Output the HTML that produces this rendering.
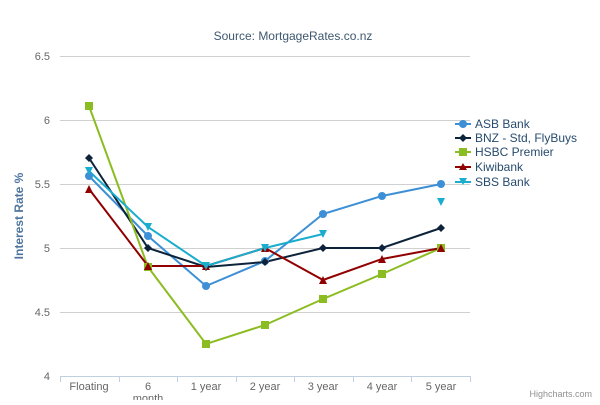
<!DOCTYPE html>
<html><head><style>body{margin:0;background:#fff}svg{font-family:"Liberation Sans",sans-serif}</style></head><body>
<svg width="600" height="400" xmlns="http://www.w3.org/2000/svg">
<text x="293" y="40" text-anchor="middle" font-size="12" fill="#3E576F">Source: MortgageRates.co.nz</text>
<g stroke="#D0D0D0" stroke-width="1">
<line x1="60" y1="56.5" x2="470" y2="56.5"/><line x1="60" y1="120.5" x2="470" y2="120.5"/><line x1="60" y1="184.5" x2="470" y2="184.5"/><line x1="60" y1="248.5" x2="470" y2="248.5"/><line x1="60" y1="312.5" x2="470" y2="312.5"/>
<line x1="60" y1="376.5" x2="470" y2="376.5" stroke="#C0D0E0"/>
</g>
<g stroke="#C0D0E0"><line x1="60.5" y1="376" x2="60.5" y2="382"/><line x1="119.5" y1="376" x2="119.5" y2="382"/><line x1="177.5" y1="376" x2="177.5" y2="382"/><line x1="236.5" y1="376" x2="236.5" y2="382"/><line x1="294.5" y1="376" x2="294.5" y2="382"/><line x1="353.5" y1="376" x2="353.5" y2="382"/><line x1="411.5" y1="376" x2="411.5" y2="382"/><line x1="470.5" y1="376" x2="470.5" y2="382"/></g>
<g font-size="11" fill="#666" text-anchor="end">
<text x="50" y="60">6.5</text><text x="50" y="124">6</text><text x="50" y="188">5.5</text><text x="50" y="252">5</text><text x="50" y="316">4.5</text><text x="50" y="380">4</text></g>
<g font-size="11" fill="#666" text-anchor="middle">
<text x="89" y="390">Floating</text><text x="148" y="390">6</text><text x="148" y="402">month</text><text x="206" y="390">1 year</text><text x="265" y="390">2 year</text><text x="323" y="390">3 year</text><text x="382" y="390">4 year</text><text x="441" y="390">5 year</text></g>
<text transform="translate(23,216) rotate(-90)" text-anchor="middle" font-size="12" font-weight="bold" fill="#4D759E">Interest Rate %</text>
<text x="592" y="397" text-anchor="end" font-size="9" fill="#909090">Highcharts.com</text>
<g fill="none" stroke-width="2">
<polyline stroke="#3D8FD6" points="89,176 148,236 206,286 265,261 323,214 382,196 441,184"/>
<polyline stroke="#0D233A" points="89,158 148,248 206,267 265,262 323,248 382,248 441,228"/>
<polyline stroke="#8BBC21" points="89,106 148,267 206,344 265,325 323,299 382,274 441,248"/>
<polyline stroke="#910000" points="89,189 148,266 206,266 265,248 323,280 382,259 441,248"/>
<polyline stroke="#1AADCE" points="89,171 148,227 206,266 265,248 323,234"/>
</g>
<g fill="#3D8FD6"><circle cx="89" cy="176" r="4"/><circle cx="148" cy="236" r="4"/><circle cx="206" cy="286" r="4"/><circle cx="265" cy="261" r="4"/><circle cx="323" cy="214" r="4"/><circle cx="382" cy="196" r="4"/><circle cx="441" cy="184" r="4"/></g>
<g fill="#0D233A"><path d="M89 154l4 4-4 4-4-4z"/><path d="M148 244l4 4-4 4-4-4z"/><path d="M206 263l4 4-4 4-4-4z"/><path d="M265 258l4 4-4 4-4-4z"/><path d="M323 244l4 4-4 4-4-4z"/><path d="M382 244l4 4-4 4-4-4z"/><path d="M441 224l4 4-4 4-4-4z"/></g>
<g fill="#8BBC21"><rect x="85" y="102" width="8" height="8"/><rect x="144" y="263" width="8" height="8"/><rect x="202" y="340" width="8" height="8"/><rect x="261" y="321" width="8" height="8"/><rect x="319" y="295" width="8" height="8"/><rect x="378" y="270" width="8" height="8"/><rect x="437" y="244" width="8" height="8"/></g>
<g fill="#910000"><path d="M89 185l4 8h-8z"/><path d="M148 262l4 8h-8z"/><path d="M206 262l4 8h-8z"/><path d="M265 244l4 8h-8z"/><path d="M323 276l4 8h-8z"/><path d="M382 255l4 8h-8z"/><path d="M441 244l4 8h-8z"/></g>
<g fill="#1AADCE"><path d="M85 167h8l-4 8z"/><path d="M144 223h8l-4 8z"/><path d="M202 262h8l-4 8z"/><path d="M261 244h8l-4 8z"/><path d="M319 230h8l-4 8z"/><path d="M437 198h8l-4 8z"/></g>
<g font-size="12" fill="#274B6D">
<line x1="455" y1="124" x2="471" y2="124" stroke="#3D8FD6" stroke-width="2"/><circle cx="463" cy="124" r="4" fill="#3D8FD6"/><text x="475" y="128">ASB Bank</text>
<line x1="455" y1="138" x2="471" y2="138" stroke="#0D233A" stroke-width="2"/><path d="M463 134l4 4-4 4-4-4z" fill="#0D233A"/><text x="475" y="142">BNZ - Std, FlyBuys</text>
<line x1="455" y1="152" x2="471" y2="152" stroke="#8BBC21" stroke-width="2"/><rect x="459" y="148" width="8" height="8" fill="#8BBC21"/><text x="475" y="156">HSBC Premier</text>
<line x1="455" y1="167" x2="471" y2="167" stroke="#910000" stroke-width="2"/><path d="M463 163l4 7h-8z" fill="#910000"/><text x="475" y="171">Kiwibank</text>
<line x1="455" y1="182" x2="471" y2="182" stroke="#1AADCE" stroke-width="2"/><path d="M459 178h8l-4 7z" fill="#1AADCE"/><text x="475" y="186">SBS Bank</text>
</g>
</svg>
</body></html>
